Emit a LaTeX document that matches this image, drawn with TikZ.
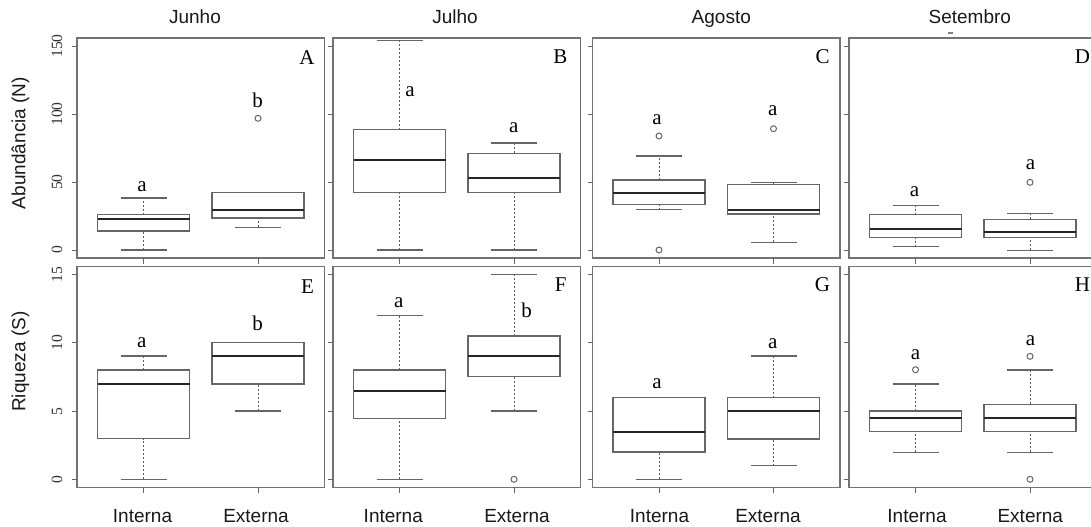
\documentclass[tikz,border=0pt]{standalone}
\usepackage{fontspec}
\setmainfont{Liberation Serif}
\setsansfont{Liberation Sans}
\newcommand\bxp[6]{%
  \draw[whisk] (#1,#2) -- (#1,#3);
  \draw[whisk] (#1,#5) -- (#1,#6);
  \draw[capl] ({#1-23},#2) -- ({#1+23},#2);
  \draw[capl] ({#1-23},#6) -- ({#1+23},#6);
  \draw[boxl] ({#1-46},#3) rectangle ({#1+46},#5);
  \draw[medl] ({#1-46},#4) -- ({#1+46},#4);
}
\newcommand\outp[2]{\draw[outl] (#1,#2) circle[radius=3];}
\tikzset{
  frame/.style={draw=black!55, line width=0.75pt},
  tk/.style={draw=black!60, line width=0.5pt},
  whisk/.style={draw=black!65, line width=0.45pt, dash pattern=on 1pt off 1pt},
  capl/.style={draw=black!60, line width=0.65pt},
  boxl/.style={draw=black!60, line width=0.6pt},
  medl/.style={draw=black!85, line width=1pt},
  outl/.style={draw=black!60, line width=0.5pt},
  ttl/.style={font=\fontsize{9.5}{11}\selectfont\sffamily, text=black!90, inner sep=0pt},
  ticklab/.style={font=\fontsize{7.8}{9}\selectfont, text=black!80, inner sep=0pt, rotate=90},
  sig/.style={font=\fontsize{10.5}{12}\selectfont, inner sep=0pt, anchor=base},
  plab/.style={font=\fontsize{10.5}{12}\selectfont, inner sep=0pt},
}
\begin{document}
\begin{tikzpicture}[x=0.5pt,y=-0.5pt]
\useasboundingbox (0,0) rectangle (1091,526);
\clip (0,0) rectangle (1091,526);
\fill[white] (0,0) rectangle (1091,526);

% frames and ticks
\foreach \L in {77,333,592.5,849} {
  \draw[frame] (\L,38) rectangle ({\L+247.5},258);
  \draw[frame] (\L,266.5) rectangle ({\L+247.5},487.5);
  \foreach \yy in {250,182,114,46} \draw[tk] ({\L-5},\yy) -- (\L,\yy);
  \foreach \yy in {479.3,411.1,342.9,274.7} \draw[tk] ({\L-5},\yy) -- (\L,\yy);
  \foreach \xx in {66.5,181} {
    \draw[tk] ({\L+\xx},258) -- ({\L+\xx},263.5);
    \draw[tk] ({\L+\xx},487.5) -- ({\L+\xx},493);
  }
}

% tick labels
\node[ticklab] (t0) at (57,250) {0};
\node[ticklab] (t50) at (57,182) {50};
\node[ticklab] (t100) at (57,114) {100};
\node[ticklab] (t150) at (57,46) {150};
\node[ticklab] (s0) at (57,479.3) {0};
\node[ticklab] (s5) at (57,411.1) {5};
\node[ticklab] (s10) at (57,342.9) {10};
\node[ticklab] (s15) at (57,274.7) {15};

% axis titles
\node[ttl, rotate=90] (ylabN) at (20.5,143) {Abundância (N)};
\node[ttl, rotate=90] (ylabS) at (20.5,361.7) {Riqueza (S)};

% month titles
\node[ttl, anchor=base] (mJun) at (195,23) {Junho};
\node[ttl, anchor=base] (mJul) at (455,23) {Julho};
\node[ttl, anchor=base] (mAgo) at (721.3,23) {Agosto};
\node[ttl, anchor=base] (mSet) at (969.8,23) {Setembro};
\draw[black!50, line width=0.6pt] (948,33) -- (952.5,33);

% x labels
\foreach \cx/\nm/\tx in {142.5/i1/Interna,256/e1/Externa,393.3/i2/Interna,517/e2/Externa,659.5/i3/Interna,768/e3/Externa,917/i4/Interna,1030.3/e4/Externa}
  \node[ttl, anchor=base] (x\nm) at (\cx,522) {\tx};

% panel letters
\node[plab] (pA) at (307,57.5) {A};
\node[plab] (pB) at (560.3,56.5) {B};
\node[plab] (pC) at (822.5,57) {C};
\node[plab] (pD) at (1082.5,57) {D};
\node[plab] (pE) at (307.5,286.7) {E};
\node[plab] (pF) at (560.8,285) {F};
\node[plab] (pG) at (822.5,285) {G};
\node[plab] (pH) at (1082.5,285) {H};

% ---- top row: abundance ----
\bxp{143.5}{250}{231}{219}{214.7}{198}
\bxp{258}{227.3}{218}{210}{192.3}{192.3}
\outp{258}{118.3}
\bxp{399.5}{250}{192.3}{160.3}{129.7}{40.3}
\bxp{514}{250}{192.3}{178.3}{153.3}{143}
\bxp{659}{209.7}{204.3}{193.3}{180}{156}
\outp{659}{250}
\outp{659}{136}
\bxp{773.5}{242.3}{214}{210}{184.3}{182.7}
\outp{773.5}{128.7}
\bxp{915.5}{246.7}{237.3}{229}{214.7}{205.7}
\bxp{1030}{250.3}{237.3}{232.3}{219.3}{213.7}
\outp{1030}{182.3}

% ---- bottom row: richness ----
\bxp{143.5}{479.3}{438.7}{383.7}{370}{356}
\bxp{258}{411}{384}{356.3}{342.7}{342.7}
\bxp{399.5}{479.3}{418.3}{391}{370}{315.7}
\bxp{514}{411}{376.7}{356.3}{336}{274.7}
\outp{514}{479.3}
\bxp{659}{479.3}{452}{432}{397.7}{397.7}
\bxp{773.5}{465.7}{439}{411.3}{397.7}{356}
\bxp{915.5}{452.3}{431.3}{417.7}{411}{384}
\outp{915.5}{369.7}
\bxp{1030}{452.3}{431.3}{417.7}{404.3}{370}
\outp{1030}{479.3}
\outp{1030}{356.3}

% significance letters
\node[sig] (gA1) at (142,191.7) {a};
\node[sig] (gA2) at (257.5,107.3) {b};
\node[sig] (gB1) at (410,96) {a};
\node[sig] (gB2) at (513.8,132.7) {a};
\node[sig] (gC1) at (657,124) {a};
\node[sig] (gC2) at (772.8,115) {a};
\node[sig] (gD1) at (914.5,196.7) {a};
\node[sig] (gD2) at (1030.5,169.3) {a};
\node[sig] (gE1) at (141.7,347.3) {a};
\node[sig] (gE2) at (257.5,330) {b};
\node[sig] (gF1) at (398.7,307.3) {a};
\node[sig] (gF2) at (526.7,317.7) {b};
\node[sig] (gG1) at (657,388.3) {a};
\node[sig] (gG2) at (772.8,348.7) {a};
\node[sig] (gH1) at (915.5,359.3) {a};
\node[sig] (gH2) at (1030.5,345) {a};
\end{tikzpicture}
\end{document}
